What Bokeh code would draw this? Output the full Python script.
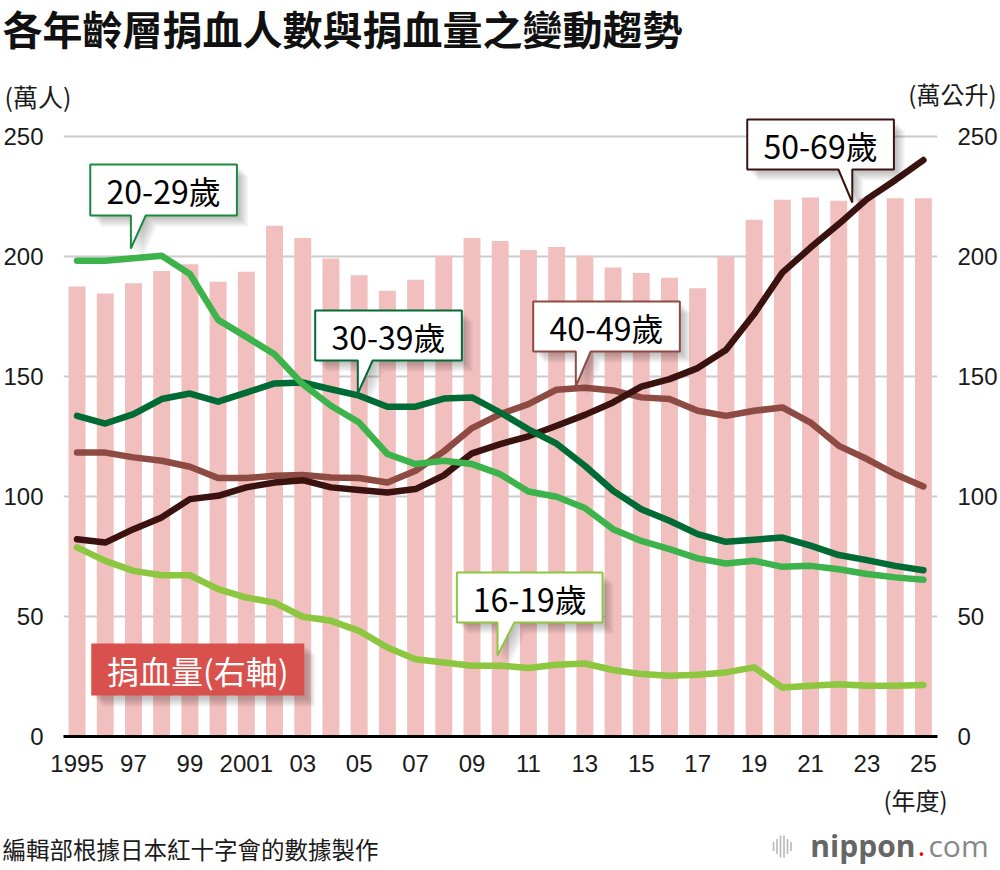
from bokeh.plotting import figure
from bokeh.layouts import column
from bokeh.models import Range1d, LinearAxis, FixedTicker, Label, Plot
from bokeh.embed import file_html
from bokeh.resources import INLINE

# ---- data -----------------------------------------------------------------
years = list(range(1995, 2026))

# blood volume collected, 10,000 litres (right axis, bars)
volume = [187.5, 184.6, 188.9, 194.0, 196.8, 189.5, 193.6, 212.8, 207.7, 199.2,
          192.2, 185.7, 190.3, 200.3, 207.7, 206.5, 202.7, 204.0, 200.3, 195.4,
          193.1, 191.1, 186.8, 199.9, 215.3, 223.6, 224.6, 223.2, 224.3, 224.3, 224.3]

# donors by age group, 10,000 persons (left axis, lines)
age16_19 = [78.8, 73.2, 69.0, 67.2, 67.2, 61.4, 57.9, 55.8, 49.9, 48.2,
            44.0, 37.1, 32.2, 30.8, 29.5, 29.5, 28.5, 29.9, 30.4, 27.7,
            26.0, 25.3, 25.7, 26.7, 28.8, 20.4, 21.1, 21.8, 21.1, 21.1, 21.5]
age20_29 = [198.2, 198.2, 199.3, 200.3, 192.7, 173.6, 166.5, 159.3, 146.8, 137.8,
            130.8, 117.7, 113.5, 114.9, 113.5, 109.3, 102.1, 99.9, 95.2, 86.4,
            81.5, 78.1, 74.2, 72.1, 73.2, 70.7, 71.1, 69.7, 67.7, 66.3, 65.3]
age30_39 = [133.6, 130.4, 134.3, 140.6, 142.9, 139.5, 143.3, 147.1, 147.5, 144.7,
            142.0, 137.4, 137.4, 140.8, 141.3, 135.0, 128.0, 122.0, 112.8, 102.4,
            94.7, 89.9, 84.3, 81.1, 82.0, 82.9, 79.5, 75.6, 73.5, 71.1, 69.3]
age40_49 = [118.3, 118.3, 116.3, 114.9, 112.4, 107.7, 107.7, 108.6, 109.0, 107.9,
            107.7, 105.8, 110.7, 118.8, 128.5, 134.3, 138.5, 144.5, 145.3, 144.2,
            141.3, 140.6, 135.7, 133.6, 135.7, 137.1, 130.8, 121.1, 115.6, 109.3, 104.2]
age50_69 = [82.2, 80.8, 86.4, 91.3, 98.9, 100.3, 103.8, 105.8, 106.8, 103.8,
            102.7, 101.7, 103.1, 108.8, 118.0, 121.8, 125.1, 129.5, 134.0, 139.2,
            145.8, 148.9, 153.5, 161.0, 176.0, 193.3, 203.7, 213.5, 223.9, 231.8, 240.2]

y_ticks = [0, 50, 100, 150, 200, 250]
x_ticks = list(range(1995, 2026, 2))
x_tick_labels = ["1995", "97", "99", "2001", "03", "05", "07", "09", "11",
                 "13", "15", "17", "19", "21", "23", "25"]

# ---- page geometry (pixels from the top-left of the page) -------------------
W = 1000
HEAD_H = 115          # title + unit captions
FOOT_H = 90           # year caption, source, logo
FRAME_L, FRAME_W = 60, 882
FRAME_B = 736                   # page y of the zero line
FRAME_H = FRAME_B - HEAD_H
MAIN_H = 870 - HEAD_H - FOOT_H
PX_PER_UNIT = 2.4               # 50 units per 120 px

X0, X1 = 1994.52, 2025.5
YMAX = FRAME_H / PX_PER_UNIT

CJK = "Noto Sans CJK TC"
NUM = "Liberation Sans"
INK = "#1a1a1a"

CAN_UNALIGN = "frame_align" in Plot.properties()


def px_x(px):
    return X0 + (px - FRAME_L) * (X1 - X0) / FRAME_W


def px_y(py):
    return (FRAME_B - py) / PX_PER_UNIT


def dx(px):
    return px * (X1 - X0) / FRAME_W


def dy(px):
    return px / PX_PER_UNIT


def text_strip(top, height):
    """A bare figure whose data space is the page's own pixel grid."""
    f = figure(width=W, height=height, output_backend="svg", toolbar_location=None,
               title=None, x_range=Range1d(0, W), y_range=Range1d(top + height, top),
               x_axis_location=None, y_axis_location=None,
               min_border=0, min_border_left=0, min_border_right=0,
               min_border_top=0, min_border_bottom=0,
               background_fill_color="white", border_fill_color="white",
               outline_line_color=None)
    f.grid.visible = False
    if CAN_UNALIGN:
        f.frame_align = False
    return f


def note(f, x, y, text, size, align="left", color=INK, font=CJK, style="normal",
         baseline="middle"):
    f.add_layout(Label(x=x, y=y, text=text, text_align=align,
                       text_baseline=baseline, text_font=font,
                       text_font_size=size, text_color=color,
                       text_font_style=style))


# ---- header -----------------------------------------------------------------
head = text_strip(0, HEAD_H)
note(head, 2, 27, "各年齡層捐血人數與捐血量之變動趨勢", "40px", color="#111111",
     style="bold")
note(head, 4, 95, "(萬人)", "25px")
note(head, 996, 93, "(萬公升)", "24px", align="right")

# ---- main chart -------------------------------------------------------------
p = figure(width=W, height=MAIN_H, output_backend="svg", toolbar_location=None,
           title=None, x_range=Range1d(X0, X1), y_range=Range1d(0, YMAX),
           min_border_left=FRAME_L, min_border_right=W - FRAME_L - FRAME_W,
           min_border_top=0, min_border_bottom=MAIN_H - FRAME_H,
           background_fill_color="white", border_fill_color="white",
           outline_line_color=None)
if CAN_UNALIGN:
    p.frame_align = False
p.extra_y_ranges = {"vol": Range1d(0, YMAX)}

p.yaxis[0].ticker = FixedTicker(ticks=y_ticks)
right_axis = LinearAxis(y_range_name="vol", ticker=FixedTicker(ticks=y_ticks))
p.add_layout(right_axis, "right")
for ax in (p.yaxis[0], right_axis):
    ax.axis_line_color = None
    ax.major_tick_line_color = None
    ax.minor_tick_line_color = None
    ax.major_label_text_font = NUM
    ax.major_label_text_font_size = "24px"
    ax.major_label_text_color = INK
    ax.major_label_standoff = 14

xa = p.xaxis[0]
xa.ticker = FixedTicker(ticks=x_ticks)
xa.major_label_overrides = {t: s for t, s in zip(x_ticks, x_tick_labels)}
xa.axis_line_color = "black"
xa.axis_line_width = 3
xa.major_tick_line_color = None
xa.minor_tick_line_color = None
xa.major_label_text_font = NUM
xa.major_label_text_font_size = "24px"
xa.major_label_text_color = INK
xa.major_label_standoff = 12

p.xgrid.visible = False
p.ygrid.ticker = FixedTicker(ticks=y_ticks[1:])
p.ygrid.grid_line_color = "#cccccc"
p.ygrid.grid_line_width = 2

# bars: blood volume
p.vbar(x=years, top=volume, width=0.6, fill_color="#F1BFBE", line_color=None,
       y_range_name="vol")

# lines: donors by age group
series = [
    (age16_19, "#8DC63F"),
    (age40_49, "#8E4B43"),
    (age50_69, "#3A1310"),
    (age30_39, "#006B35"),
    (age20_29, "#3CB44B"),
]
for vals, col in series:
    p.line(years, vals, line_width=6.5, line_color=col,
           line_join="round", line_cap="round")


# callouts
def shadow(xs, ys):
    for d in (3, 5, 7, 9, 11):
        p.patch([x + dx(d) for x in xs], [y - dy(d) for y in ys],
                fill_color="black", fill_alpha=0.05, line_color=None)


def callout(l, r, t, b, tail_vert, tail_other, tip, text, color):
    L, R, T, B = px_x(l), px_x(r), px_y(t), px_y(b)
    tv, to, tp = px_x(tail_vert), px_x(tail_other), px_y(tip)
    xs = [L, R, R, max(tv, to), tv, min(tv, to), L]
    ys = [T, T, B, B, tp, B, B]
    shadow(xs, ys)
    p.patch(xs, ys, fill_color="white", line_color=color, line_width=2)
    p.add_layout(Label(x=(L + R) / 2, y=(T + B) / 2, text=text,
                       text_align="center", text_baseline="middle",
                       text_font=CJK, text_font_size="32px", text_color="black"))


callout(87, 235, 164, 215, 128, 143, 248, "20-29歲", "#1B8A3E")
callout(314, 462, 310, 360, 357, 372, 393, "30-39歲", "#006B35")
callout(534, 682, 301, 351, 577, 592, 386, "40-49歲", "#8E4B43")
callout(750, 898, 119, 169, 856, 842, 202, "50-69歲", "#3A1310")
callout(457, 604, 572, 622, 498, 515, 655, "16-19歲", "#8DC63F")

# red key box for the bars
rl, rr, rt, rb = px_x(88), px_x(303), px_y(643), px_y(695)
shadow([rl, rr, rr, rl], [rt, rt, rb, rb])
p.quad(left=rl, right=rr, top=rt, bottom=rb, fill_color="#D9514D", line_color=None)
p.add_layout(Label(x=(rl + rr) / 2, y=(rt + rb) / 2, text="捐血量(右軸)",
                   text_align="center", text_baseline="middle",
                   text_font=CJK, text_font_size="32px", text_color="white"))

# ---- footer -----------------------------------------------------------------
foot = text_strip(870 - FOOT_H, FOOT_H)
note(foot, 915, 781, "(年度)", "24px", align="center", baseline="top")
note(foot, 2, 848, "編輯部根據日本紅十字會的數據製作", "23.5px")

# nippon.com mark: sound-bar icon and wordmark
bar_x = [773, 776.5, 780, 783.5, 787, 790.5]
bar_h = [9, 15, 22, 22, 15, 9]
foot.segment(x0=bar_x, x1=bar_x, y0=[846 - h / 2 for h in bar_h],
             y1=[846 + h / 2 for h in bar_h], line_color="#b8b8b8", line_width=1.6)
note(foot, 915, 845, "nippon", "30px", align="right", color="#666666",
     font="Open Sans", style="bold")
note(foot, 917, 845, ".", "30px", color="#E60012", font="Open Sans")
note(foot, 928, 845, "com", "30px", color="#888888", font="Open Sans")

page = column(head, p, foot, spacing=0)
open("out.html", "w").write(file_html(page, INLINE))
